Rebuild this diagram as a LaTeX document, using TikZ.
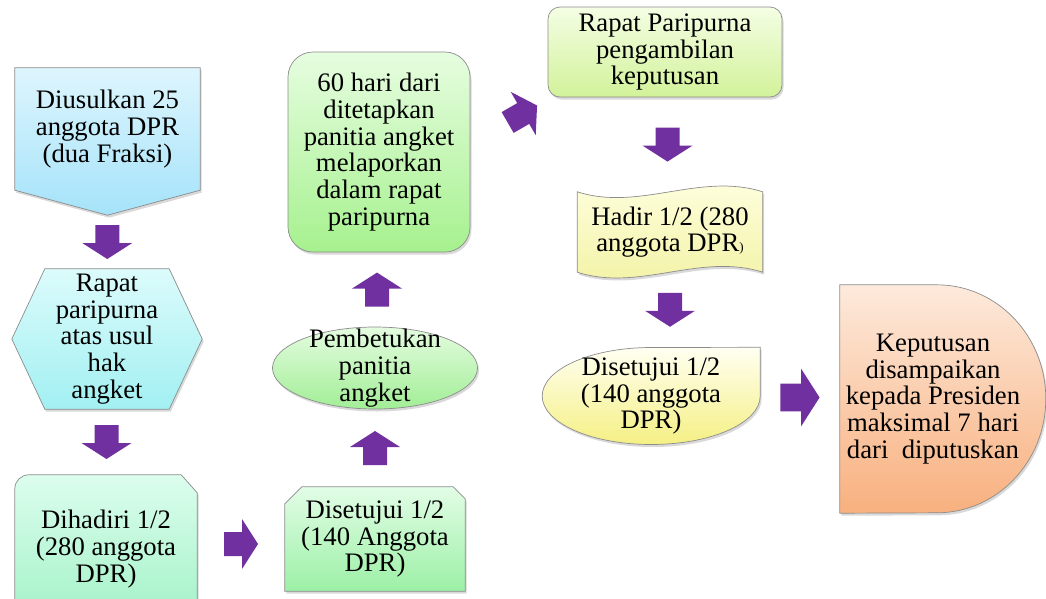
\documentclass[tikz,border=0pt]{standalone}
\usepackage{fontspec}
\setmainfont{Liberation Serif}
\usetikzlibrary{calc,shadows,backgrounds}
\definecolor{flowpurple}{HTML}{7030A0}
\definecolor{linegray}{HTML}{8C8C8C}
\definecolor{sky1}{HTML}{DDF5FD}
\definecolor{sky2}{HTML}{A5E3FA}
\definecolor{cyan1}{HTML}{DCFBFB}
\definecolor{cyan2}{HTML}{A2F0F2}
\definecolor{mint1}{HTML}{DCFDEE}
\definecolor{mint2}{HTML}{A2F2C6}
\definecolor{fern1}{HTML}{E2FDE6}
\definecolor{fern2}{HTML}{9CF0A6}
\definecolor{oval1}{HTML}{E4FCE0}
\definecolor{oval2}{HTML}{A2EE96}
\definecolor{leaf1}{HTML}{E6FDE0}
\definecolor{leaf2}{HTML}{A6F18E}
\definecolor{lime1}{HTML}{F4FEE4}
\definecolor{lime2}{HTML}{D2F29A}
\definecolor{lemon1}{HTML}{FFFFE2}
\definecolor{lemon2}{HTML}{F2F2A2}
\definecolor{cream1}{HTML}{FFFFF2}
\definecolor{cream2}{HTML}{F5F084}
\definecolor{peach1}{HTML}{FDEADC}
\definecolor{peach2}{HTML}{F8B07E}

\begin{document}
\begin{tikzpicture}[x=1pt, y=-1pt,
  every node/.style = {align=center, inner sep=0pt,
    font=\fontsize{26.7}{26.7}\selectfont},
  outline/.style = {draw=linegray, line width=0.7pt,
    drop shadow={opacity=0.3, shadow xshift=1.5pt, shadow yshift=-2.5pt}},
  skyfill/.style   = {top color=sky1, bottom color=sky2},
  cyanfill/.style  = {top color=cyan1, bottom color=cyan2},
  mintfill/.style  = {top color=mint1, bottom color=mint2},
  fernfill/.style  = {top color=fern1, bottom color=fern2},
  ovalfill/.style  = {top color=oval1, bottom color=oval2},
  leaffill/.style  = {top color=leaf1, bottom color=leaf2},
  limefill/.style  = {top color=lime1, bottom color=lime2},
  lemonfill/.style = {top color=lemon1, bottom color=lemon2},
  creamfill/.style = {top color=cream1, bottom color=cream2},
  peachfill/.style = {top color=peach1, bottom color=peach2},
  blockarrow/.pic  = {\fill[flowpurple] (-17,-12) -- (1,-12) -- (1,-25)
    -- (17,0) -- (1,25) -- (1,12) -- (-17,12) -- cycle;}]
\useasboundingbox (0,0) rectangle (1046,598);

\node[minimum width=185, minimum height=122] (propose) at (107.5,129)
  {Diusulkan 25\\anggota DPR\\(dua Fraksi)};
\coordinate (proposetip) at ($(propose.south)+(0,25)$);
\node[minimum width=190, minimum height=140] (hearing) at (107,339)
  {Rapat\\paripurna\\atas usul\\hak\\angket};
\node[minimum width=182, minimum height=148] (attend) at (106,549)
  {Dihadiri 1/2\\(280 anggota\\DPR)};
\node[minimum width=180, minimum height=104] (agree) at (375,539)
  {Disetujui 1/2\\(140 Anggota\\DPR)};
\node[minimum width=205, minimum height=82] (committee) at (375,368)
  {Pembetukan\\panitia\\angket};
\node[outline, leaffill, rounded corners=25, minimum width=182,
  minimum height=200] (report) at (379,152)
  {60 hari dari\\ditetapkan\\panitia angket\\melaporkan\\dalam rapat\\paripurna};
\node[outline, limefill, rounded corners=12, minimum width=234,
  minimum height=90] (plenary) at (665,52)
  {Rapat Paripurna\\pengambilan\\keputusan};
\node[minimum width=185, minimum height=80] (quorum) at (670,232)
  {Hadir 1/2 (280\\anggota DPR{\fontsize{13}{13}\selectfont)}};
\node[minimum width=218, minimum height=97] (vote) at (651,396)
  {Disetujui 1/2\\(140 anggota\\DPR)};
\node[minimum width=186, minimum height=228] (deliver) at (933,399)
  {Keputusan\\disampaikan\\kepada Presiden\\maksimal 7 hari\\dari~ diputuskan};

\begin{scope}[on background layer]
\clip (0,0) rectangle (1046,598);
\path[outline, skyfill] (propose.north west) -- (propose.north east)
  -- (propose.south east) -- (proposetip) -- (propose.south west) -- cycle;
\path[outline, cyanfill] (hearing.west) -- ($(hearing.north west)+(33,0)$)
  -- ($(hearing.north east)+(-33,0)$) -- (hearing.east)
  -- ($(hearing.south east)+(-33,0)$) -- ($(hearing.south west)+(33,0)$) -- cycle;
\path[outline, mintfill] (attend.south west) -- ($(attend.north west)+(0,14)$)
  arc[start angle=180, end angle=270, radius=14]
  -- ($(attend.north east)+(-16,0)$) -- ($(attend.north east)+(0,18)$)
  -- (attend.south east) -- cycle;
\path[outline, fernfill] ($(agree.north west)+(0,17)$) -- ($(agree.north west)+(17,0)$)
  -- ($(agree.north east)+(-12,0)$) -- ($(agree.north east)+(0,12)$)
  -- (agree.south east) -- (agree.south west) -- cycle;
\path[outline, ovalfill] (committee.center) ellipse [x radius=102.5, y radius=41];
\path[outline, lemonfill] (quorum.north west) .. controls +(62,20) and +(-63,-20) .. (quorum.north east)
  -- (quorum.south east) .. controls +(-63,-20) and +(62,20) .. (quorum.south west) -- cycle;
\path[outline, creamfill] (vote.north east) -- (vote.east)
  arc[start angle=0, end angle=270, x radius=109, y radius=48.5] -- cycle;
\path[outline, peachfill] (deliver.north west) -- ++(97,0)
  arc[start angle=270, end angle=450, x radius=109, y radius=114]
  -- (deliver.south west) -- cycle;
\end{scope}

\pic[rotate=-90] at ($(proposetip)!0.5!(hearing.north)$) {blockarrow};
\pic[rotate=-90] at ($(hearing.south)!0.5!(attend.north)$) {blockarrow};
\pic at ($(attend.east)!0.5!(agree.west)$) {blockarrow};
\pic[rotate=90] at ($(agree.north)!0.5!(committee.south)$) {blockarrow};
\pic[rotate=90] at ($(committee.north)!0.5!(report.south)$) {blockarrow};
\pic[rotate=30] at ($(report.east)+(52,-38)$) {blockarrow};
\pic[rotate=-90] at ($(plenary.south)!0.5!(quorum.north)$) {blockarrow};
\pic[rotate=-90] at ($(quorum.south)!0.5!(quorum.south |- vote.north)$) {blockarrow};
\pic[scale=1.15] at ($(vote.east)!0.5!(deliver.west)$) {blockarrow};
\end{tikzpicture}
\end{document}
